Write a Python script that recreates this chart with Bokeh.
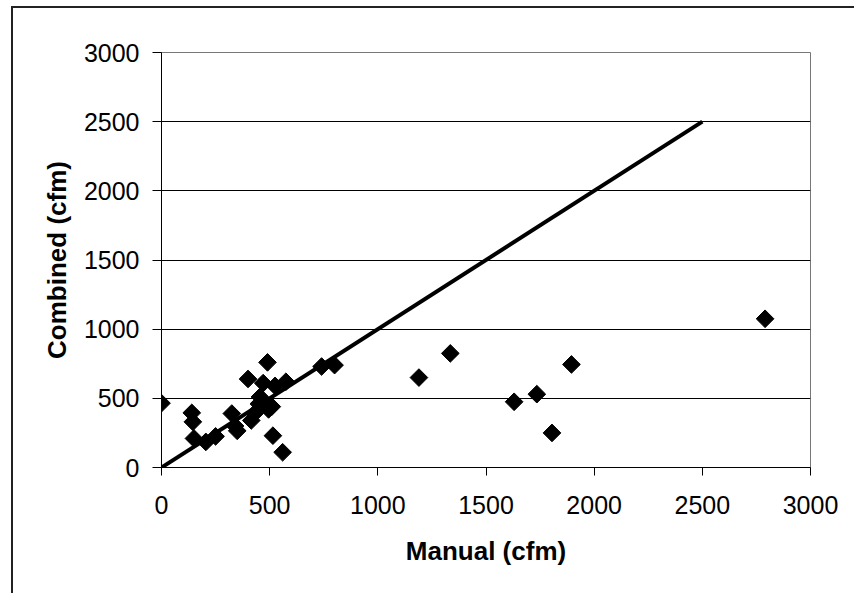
import numpy as np
from bokeh.plotting import figure
from bokeh.models import FixedTicker
from bokeh.embed import file_html
from bokeh.resources import INLINE

# Airflow measurements: manual method vs. combined method (cfm)
manual = [0, 140, 145, 150, 205, 250, 325, 340, 350, 400, 415, 430, 450, 455,
          470, 490, 495, 510, 515, 525, 560, 575, 740, 800, 1190, 1335, 1630,
          1735, 1805, 1895, 2790]
combined = [465, 395, 330, 210, 185, 225, 390, 300, 265, 640, 340, 390, 460, 510,
            610, 760, 420, 440, 230, 590, 110, 620, 730, 740, 650, 825, 475,
            530, 250, 745, 1075]

# 1:1 reference line
ref_x = [0, 2500]
ref_y = [0, 2500]

ticks = [0, 500, 1000, 1500, 2000, 2500, 3000]

FONT = "Liberation Sans"

p = figure(
    width=841, height=585,
    frame_width=649, frame_height=415,
    min_border_left=148, min_border_right=44,
    min_border_top=44, min_border_bottom=126,
    x_range=(0, 3000), y_range=(0, 3000),
    output_backend="svg", toolbar_location=None,
    background_fill_color="white", border_fill_color="white",
)

# outer frame: only the left and top edges fall inside the page
p.styles = {
    "margin-left": "11px",
    "margin-top": "6px",
    "border-left": "2px solid #222222",
    "border-top": "2px solid #222222",
}

p.outline_line_color = "#777777"
p.outline_line_width = 1

p.xgrid.visible = False
p.ygrid.ticker = FixedTicker(ticks=ticks)
p.ygrid.grid_line_color = "black"
p.ygrid.grid_line_width = 1

for ax in (p.xaxis[0], p.yaxis[0]):
    ax.ticker = FixedTicker(ticks=ticks)
    ax.axis_line_color = "black"
    ax.axis_line_width = 1
    ax.major_tick_line_color = "black"
    ax.major_tick_in = 0
    ax.minor_tick_line_color = None
    ax.major_label_text_font = FONT
    ax.major_label_text_font_size = "25px"
    ax.major_label_text_color = "black"
    ax.axis_label_text_font = FONT
    ax.axis_label_text_font_size = "26px"
    ax.axis_label_text_font_style = "bold"
    ax.axis_label_text_color = "black"

p.xaxis.axis_label = "Manual (cfm)"
p.yaxis.axis_label = "Combined (cfm)"
p.xaxis.major_tick_out = 8
p.yaxis.major_tick_out = 9
p.xaxis.major_label_standoff = 20
p.xaxis.axis_label_standoff = 19
p.yaxis.major_label_standoff = 13
p.yaxis.axis_label_standoff = 9

p.line(ref_x, ref_y, line_color="black", line_width=4)
p.scatter(manual, combined, marker="square", angle=np.pi / 4, size=12.5,
          fill_color="black", line_color="black")

open("out.html", "w").write(file_html(p, INLINE))
